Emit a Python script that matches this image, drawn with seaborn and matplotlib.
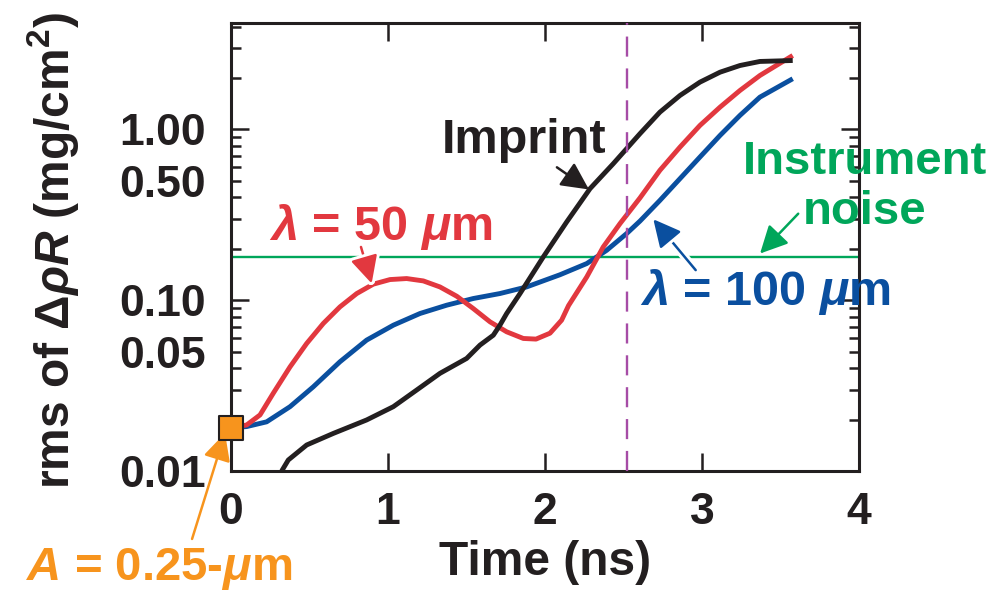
import matplotlib
matplotlib.use("Agg")
import matplotlib.pyplot as plt
import matplotlib.patheffects as pe
import numpy as np
import pandas as pd
import seaborn as sns

# ---------------- data ----------------
red_t = [0.0, 0.100, 0.185, 0.269, 0.376, 0.482, 0.588, 0.694, 0.801, 0.906, 1.013,
         1.119, 1.225, 1.331, 1.438, 1.543, 1.650, 1.756, 1.862, 1.943, 2.032, 2.106,
         2.150, 2.266, 2.371, 2.478, 2.605, 2.732, 2.860, 2.987, 3.115, 3.242, 3.369,
         3.578]
red_v = [0.0179, 0.0186, 0.0213, 0.0285, 0.0407, 0.0558, 0.0731, 0.0914, 0.1094, 0.1241,
         0.1321, 0.1339, 0.1297, 0.1196, 0.1055, 0.0894, 0.0747, 0.0653, 0.0597, 0.0592,
         0.0641, 0.0764, 0.0930, 0.1368, 0.205, 0.281, 0.397, 0.576, 0.788, 1.055, 1.350,
         1.691, 2.069, 2.709]

blue_t = [0.0, 0.100, 0.227, 0.376, 0.524, 0.694, 0.864, 1.034, 1.204, 1.374, 1.543,
          1.713, 1.883, 2.096, 2.266, 2.393, 2.520, 2.605, 2.732, 2.860, 2.987, 3.115,
          3.242, 3.369, 3.578]
blue_v = [0.0179, 0.0182, 0.0194, 0.0238, 0.0311, 0.0436, 0.0584, 0.0714, 0.0836, 0.0935,
          0.1023, 0.1094, 0.1196, 0.141, 0.1639, 0.196, 0.2455, 0.2905, 0.384, 0.515,
          0.689, 0.922, 1.208, 1.545, 1.98]

black_t = [0.323, 0.365, 0.482, 0.652, 0.864, 1.034, 1.183, 1.331, 1.501, 1.586, 1.671,
           1.713, 1.756, 1.841, 1.989, 2.138, 2.287, 2.435, 2.605, 2.732, 2.860, 2.987,
           3.115, 3.242, 3.369, 3.578]
black_v = [0.0100, 0.0116, 0.0142, 0.0166, 0.0199, 0.0238, 0.0298, 0.0373, 0.0456, 0.0546,
           0.0624, 0.0714, 0.0836, 0.1094, 0.1791, 0.287, 0.450, 0.630, 0.944, 1.262,
           1.581, 1.891, 2.163, 2.367, 2.500, 2.532]

square_t = [0.0]
square_v = [0.0179]

noise_level = 0.18
marker_time = 2.525

x_ticks = [0, 1, 2, 3, 4]
y_major = [0.01, 0.1, 1.0]
y_major_labels = ["0.01", "0.10", "1.00"]
y_minor_labeled = {0.05: "0.05", 0.5: "0.50"}

series_names = ["lambda100", "lambda50", "imprint"]

# ---------------- style ----------------
RED = "#E2383F"
BLUE = "#0A4F9F"
BLACK = "#231F20"
GREEN = "#00A65A"
ORANGE = "#F7941D"
PURPLE = "#A64CA6"

sns.set_theme(style="ticks")
plt.rcParams["font.family"] = ["Liberation Sans", "DejaVu Sans"]
plt.rcParams["font.weight"] = "bold"
plt.rcParams["mathtext.fontset"] = "custom"
plt.rcParams["mathtext.rm"] = "Liberation Sans:bold"
plt.rcParams["mathtext.it"] = "Liberation Sans:italic:bold"
plt.rcParams["mathtext.bf"] = "Liberation Sans:bold"
plt.rcParams["mathtext.sf"] = "Liberation Sans:bold"

FS = 32      # tick labels
FSL = 34.5   # axis labels
FSA = 35     # annotations

df = pd.concat([
    pd.DataFrame({"Time": blue_t, "rms": blue_v, "series": series_names[0]}),
    pd.DataFrame({"Time": red_t, "rms": red_v, "series": series_names[1]}),
    pd.DataFrame({"Time": black_t, "rms": black_v, "series": series_names[2]}),
], ignore_index=True)

fig = plt.figure(figsize=(10.03, 5.92), dpi=100)
ax = fig.add_axes([0.2303, 0.2044, 0.6261, 0.7568])

ax.axhline(noise_level, color=GREEN, lw=1.7, zorder=1)

sns.lineplot(data=df, x="Time", y="rms", hue="series", hue_order=series_names,
             palette={"lambda100": BLUE, "lambda50": RED, "imprint": BLACK},
             estimator=None, sort=False, linewidth=3.5, legend=False, ax=ax, zorder=3)
for ln in ax.get_lines()[1:]:
    ln.set_linewidth(3.5)
    ln.set_solid_capstyle("butt")
    ln.set_solid_joinstyle("round")

ax.axvline(marker_time, color=PURPLE, lw=1.7, ls=(0, (8.5, 5)), zorder=4)

sns.scatterplot(x=square_t, y=square_v, marker="s", s=280, color=ORANGE,
                edgecolor=BLACK, linewidth=1.5, zorder=10, clip_on=False, ax=ax,
                legend=False)

ax.set_yscale("log")
ax.set_xlim(0, 4)
ax.set_ylim(0.01, 4.2)

ax.set_xticks(x_ticks)
ax.set_xticklabels([str(v) for v in x_ticks])
ax.set_yticks(y_major)
ax.set_yticklabels(y_major_labels)
minor = [m * d for d in (0.01, 0.1, 1.0) for m in range(2, 10) if m * d < 4.2]
ax.set_yticks(minor, minor=True)
ax.set_yticklabels([y_minor_labeled.get(round(v, 3), "") for v in minor], minor=True)

ax.tick_params(which="both", direction="in", top=True, right=True, width=1.8,
               color=BLACK, labelsize=FS, labelcolor=BLACK)
ax.tick_params(which="major", length=13)
ax.tick_params(which="minor", length=7)
ax.tick_params(axis="y", which="both", pad=18)
ax.tick_params(axis="x", which="both", pad=15)
for lab in ax.get_xticklabels() + ax.get_yticklabels() + ax.get_yticklabels(minor=True):
    lab.set_fontweight("bold")

for sp in ax.spines.values():
    sp.set_linewidth(2.2)
    sp.set_color(BLACK)
    sp.set_visible(True)

ax.set_xlabel("Time (ns)", fontsize=FSL, fontweight="bold", color=BLACK, va="center")
ax.xaxis.set_label_coords(0.5, -0.205)
ax.set_ylabel(r"rms of $\Delta\rho R$ (mg/cm$^\mathrm{2}$)", fontsize=FSL,
              fontweight="bold", color=BLACK, va="center")
ax.yaxis.set_label_coords(-0.283, 0.493)

# ---------------- annotations ----------------
white = [pe.withStroke(linewidth=6, foreground="white")]

def arrow(tail, tip, color, stroke=False):
    props = dict(arrowstyle="-|>,head_length=0.6,head_width=0.3", color=color,
                 lw=1.8, mutation_scale=28, shrinkA=0, shrinkB=0)
    if stroke:
        props["path_effects"] = white
    ax.annotate("", xy=tip, xytext=tail, arrowprops=props, annotation_clip=False,
                zorder=6)

ax.text(1.866, 0.724, "Imprint", fontsize=FSA, fontweight="bold", color=BLACK,
        ha="center", va="baseline")
arrow((2.076, 0.600), (2.280, 0.445), BLACK)

ax.text(0.954, 0.2264, r"$\lambda$ = 50 $\mu$m", fontsize=FSA, fontweight="bold",
        color=RED, ha="center", va="baseline")
arrow((0.828, 0.205), (0.896, 0.1253), RED, stroke=True)

ax.text(3.401, 0.0940, r"$\lambda$ = 100 $\mu$m", fontsize=FSA, fontweight="bold",
        color=BLUE, ha="center", va="baseline", clip_on=False)
arrow((2.960, 0.150), (2.69, 0.298), BLUE, stroke=True)

ax.text(4.038, 0.551, "Instrument", fontsize=FSA - 1, fontweight="bold", color=GREEN,
        ha="center", va="baseline", clip_on=False)
ax.text(4.038, 0.281, "noise", fontsize=FSA - 1, fontweight="bold", color=GREEN,
        ha="center", va="baseline", clip_on=False)
arrow((3.613, 0.321), (3.37, 0.1876), GREEN)

ax.text(-0.4586, 0.00231, r"$A$ = 0.25-$\mu$m", fontsize=FSA - 1, fontweight="bold",
        color=ORANGE, ha="center", va="baseline", clip_on=False)
arrow((-0.248, 0.0040), (-0.038, 0.01668), ORANGE)

fig.savefig("out.png", dpi=100)
